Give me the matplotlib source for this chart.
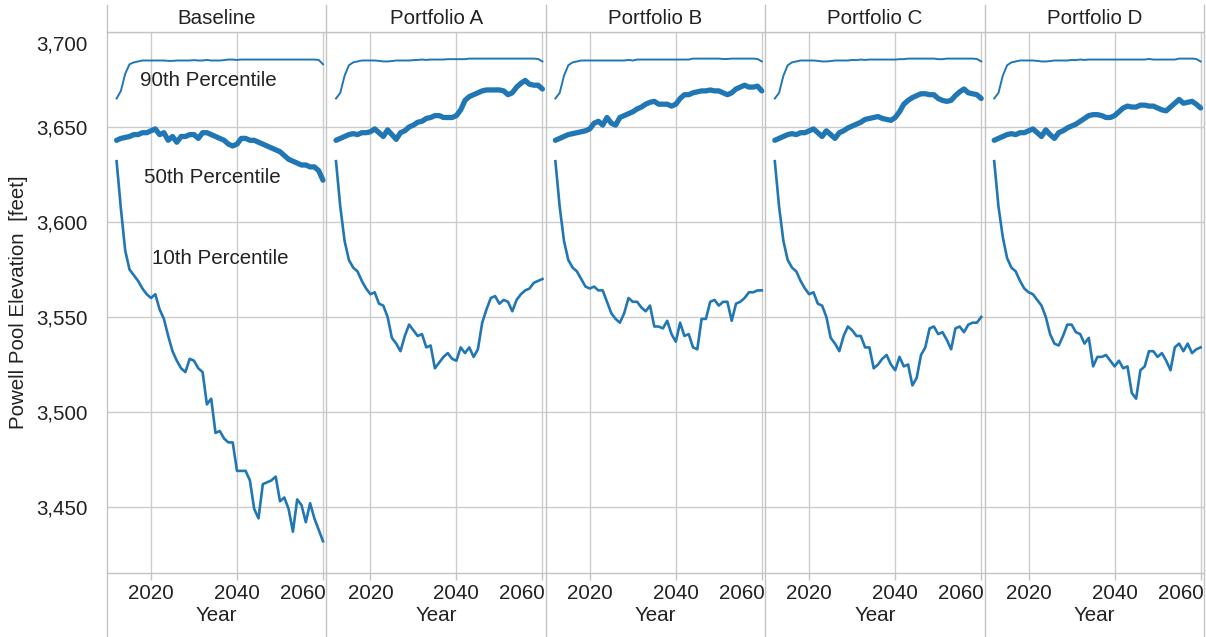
import matplotlib
matplotlib.use("Agg")
import matplotlib.pyplot as plt
from matplotlib.lines import Line2D
from matplotlib.ticker import FuncFormatter
import matplotlib.transforms as mtransforms

plt.rcParams['font.family'] = ['Liberation Sans', 'DejaVu Sans']

years = list(range(2012, 2061))
panels = ["Baseline", "Portfolio A", "Portfolio B", "Portfolio C", "Portfolio D"]

p90_baseline = [3665, 3669, 3678, 3683, 3684, 3684.5, 3685, 3685, 3685, 3685,
                3685, 3685, 3684.8, 3684.8, 3685, 3685, 3685, 3685, 3685.2, 3685,
                3685, 3685.3, 3685, 3685, 3685, 3685.2, 3685.5, 3685.5, 3685.3, 3685.5,
                3685.5, 3685.5, 3685.5, 3685.5, 3685.5, 3685.5, 3685.5, 3685.5, 3685.5, 3685.5,
                3685.5, 3685.5, 3685.5, 3685.5, 3685.5, 3685.5, 3685.5, 3685.3, 3683]
p90_a = [3665, 3668, 3677, 3682.5, 3684, 3684.5, 3685, 3685, 3685, 3685,
         3684.8, 3684.5, 3684.5, 3684.7, 3685, 3685, 3685, 3685, 3685.2, 3685.3,
         3685.5, 3685.3, 3685.5, 3685.5, 3685.5, 3685.5, 3685.7, 3685.7, 3685.7, 3685.7,
         3685.7, 3686, 3686, 3686, 3686, 3686, 3686, 3686, 3686, 3686,
         3686, 3686, 3686, 3686, 3686, 3686, 3686, 3685.8, 3684.5]
p90_b = [3665, 3668, 3677, 3682.5, 3684, 3684.5, 3685, 3685, 3685, 3685,
         3685, 3685, 3685, 3685, 3685, 3685, 3685, 3685.3, 3685, 3685.5,
         3685.5, 3685.5, 3685.5, 3685.5, 3685.5, 3685.5, 3685.5, 3685.5, 3685.5, 3685.5,
         3685.5, 3685.5, 3686, 3686, 3686, 3686, 3686, 3686, 3686, 3685.8,
         3685.8, 3686, 3686, 3686, 3686, 3686, 3686, 3685.8, 3684.5]
p90_c = [3665, 3668, 3677, 3682.5, 3684, 3684.5, 3685, 3685, 3685, 3685,
         3684.8, 3684.5, 3684.5, 3684.7, 3685, 3685, 3685, 3685, 3685.3, 3685.2,
         3685.5, 3685.3, 3685.5, 3685.5, 3685.5, 3685.5, 3685.5, 3685.5, 3685.5, 3685.7,
         3685.7, 3686, 3686, 3686, 3686, 3686, 3686, 3686, 3685.7, 3685.7,
         3686, 3686, 3686, 3686, 3686, 3686, 3686, 3685.8, 3684.5]
p90_d = [3665, 3668, 3677, 3682.5, 3684, 3684.5, 3685, 3685, 3685, 3685,
         3684.8, 3684.5, 3684.5, 3684.7, 3685, 3685, 3685, 3685, 3685.3, 3685.2,
         3685.5, 3685.3, 3685.5, 3685.5, 3685.5, 3685.5, 3685.5, 3685.5, 3685.5, 3685.5,
         3685.5, 3685.5, 3685.5, 3685.5, 3685.5, 3685.5, 3685.8, 3685.5, 3685.5, 3685.5,
         3685.5, 3685.5, 3685.5, 3686, 3686, 3686, 3686, 3685.8, 3684.5]

p50_baseline = [3643, 3644, 3644.5, 3645, 3646, 3646, 3647, 3647, 3648, 3649,
                3646, 3647, 3643, 3645, 3642, 3645, 3645, 3646, 3646, 3644,
                3647, 3647, 3646, 3645, 3644, 3643, 3641, 3640, 3641, 3644,
                3644, 3643, 3643, 3642, 3641, 3640, 3639, 3638, 3637, 3635,
                3633, 3632, 3631, 3630, 3630, 3629, 3629, 3627, 3622]
p50_a = [3643, 3644, 3645, 3646, 3646.5, 3646, 3647, 3647, 3647.5, 3649,
         3647, 3645, 3648.5, 3646, 3643.5, 3647, 3648, 3650, 3651, 3652.5,
         3653, 3654.5, 3655, 3656, 3656, 3655, 3655, 3655, 3656, 3659,
         3664, 3666, 3667, 3668, 3669, 3669.5, 3669.5, 3669.5, 3669.5, 3669,
         3667, 3668, 3671, 3673, 3674.5, 3672.5, 3672, 3672, 3670]
p50_b = [3643, 3644, 3645, 3646, 3646.5, 3647, 3647.5, 3648, 3649, 3652,
         3653, 3651, 3655, 3652, 3651, 3655, 3656, 3657, 3658, 3659.5,
         3660.5, 3662, 3663, 3663.5, 3662, 3662, 3662, 3661, 3662, 3665,
         3667, 3667, 3668, 3668.5, 3669, 3669, 3669.5, 3669, 3669, 3668,
         3667, 3668, 3670, 3671, 3672, 3671, 3671, 3671.5, 3669]
p50_c = [3643, 3644, 3645, 3646, 3646.5, 3646, 3647, 3647, 3648, 3649,
         3647, 3645, 3648, 3646, 3644, 3647, 3648, 3649.5, 3650.5, 3651.5,
         3652.5, 3654, 3654.5, 3655, 3655.5, 3654.5, 3654, 3653.5, 3655, 3658,
         3662, 3664, 3665.5, 3666.5, 3667.5, 3667.5, 3667, 3667, 3665, 3664,
         3663.5, 3664, 3666.5, 3668.5, 3670, 3668, 3667.5, 3667, 3665]
p50_d = [3643, 3644, 3645, 3646, 3646.5, 3646, 3647, 3647, 3648, 3649,
         3647, 3645, 3648.5, 3646, 3644, 3647, 3648, 3649.5, 3650.5, 3651.5,
         3653, 3654.5, 3656, 3656.5, 3656.5, 3656, 3655, 3655, 3656, 3658,
         3660, 3661, 3660.5, 3660.5, 3661.5, 3661.5, 3661, 3661, 3660, 3659,
         3658.5, 3660.5, 3662.5, 3664.5, 3662.5, 3663, 3663.5, 3662, 3660]

p10_baseline = [3632, 3607, 3585, 3575, 3572, 3569, 3565, 3562, 3560, 3562,
                3554, 3549, 3540, 3532, 3527, 3523, 3521, 3528, 3527, 3523,
                3521, 3504, 3507, 3489, 3490, 3486, 3484, 3484, 3469, 3469,
                3469, 3464, 3449, 3444, 3462, 3463, 3464, 3466, 3453, 3455,
                3449, 3437, 3454, 3451, 3442, 3452, 3444, 3438, 3432]
p10_a = [3632, 3608, 3590, 3580, 3576, 3574, 3569, 3565, 3562, 3563,
         3557, 3556, 3550, 3539, 3536, 3532, 3540, 3546, 3543, 3540,
         3541, 3534, 3535, 3523, 3526, 3529, 3531, 3528, 3527, 3534,
         3531, 3534, 3529, 3533, 3547, 3554, 3560, 3561, 3557, 3559,
         3558, 3553, 3559, 3562, 3564, 3565, 3568, 3569, 3570]
p10_b = [3632, 3608, 3590, 3580, 3576, 3574, 3570, 3566, 3565, 3566,
         3564, 3564, 3558, 3552, 3549, 3547, 3552, 3560, 3558, 3558,
         3555, 3553, 3556, 3545, 3545, 3544, 3548, 3541, 3537, 3547,
         3540, 3541, 3534, 3533, 3549, 3549, 3558, 3559, 3556, 3558,
         3558, 3548, 3557, 3558, 3560, 3563, 3563, 3564, 3564]
p10_c = [3632, 3608, 3590, 3580, 3576, 3574, 3569, 3565, 3562, 3563,
         3557, 3556, 3550, 3539, 3536, 3532, 3540, 3545, 3543, 3540,
         3540, 3534, 3534, 3523, 3525, 3528, 3530, 3525, 3522, 3529,
         3524, 3525, 3514, 3518, 3530, 3534, 3544, 3545, 3541, 3542,
         3538, 3533, 3544, 3545, 3542, 3546, 3547, 3547, 3550]
p10_d = [3632, 3608, 3592, 3581, 3576, 3574, 3569, 3565, 3563, 3562,
         3559, 3556, 3550, 3541, 3536, 3535, 3540, 3546, 3546, 3542,
         3541, 3536, 3539, 3524, 3529, 3529, 3530, 3527, 3524, 3527,
         3523, 3524, 3510, 3507, 3522, 3524, 3532, 3532, 3529, 3531,
         3527, 3522, 3534, 3536, 3532, 3536, 3531, 3533, 3534]

p90 = [p90_baseline, p90_a, p90_b, p90_c, p90_d]
p50 = [p50_baseline, p50_a, p50_b, p50_c, p50_d]
p10 = [p10_baseline, p10_a, p10_b, p10_c, p10_d]

y_ticks = [3450, 3500, 3550, 3600, 3650, 3700]
x_ticks = [2020, 2040, 2060]

W, H = 1206, 637
fig = plt.figure(figsize=(W / 100, H / 100), dpi=100)

line_color = '#2077b4'
grid_color = '#cccccc'
sep_color = '#c4c4c4'
text_color = '#222222'
fs = 14.8

left0 = 107
pw = 219.4
top_px = 32
bot_px = 573
ylim = (3700 - (bot_px - top_px) / 1.9, 3700)
xlim = (2020 - 44 / 4.3, 2020 - 44 / 4.3 + pw / 4.3)

axes = []
for i, name in enumerate(panels):
    l = (left0 + i * pw) / W
    b = (H - bot_px) / H
    ax = fig.add_axes([l, b, pw / W, (bot_px - top_px) / H])
    axes.append(ax)
    ax.set_xlim(*xlim)
    ax.set_ylim(*ylim)
    ax.set_xticks(x_ticks)
    ax.set_yticks(y_ticks)
    ax.grid(True, color=grid_color, linewidth=1.0, zorder=0)
    ax.set_axisbelow(True)
    for s in ['left', 'right']:
        ax.spines[s].set_visible(False)
    for s in ['top', 'bottom']:
        ax.spines[s].set_color(sep_color)
        ax.spines[s].set_linewidth(1.0)
    ax.tick_params(axis='x', length=5, width=1.0, color=sep_color, labelsize=fs,
                   labelcolor=text_color, pad=3)
    ax.tick_params(axis='y', length=0, labelsize=fs, labelcolor=text_color, pad=14)
    ax.yaxis.set_major_formatter(FuncFormatter(lambda v, p: f"{int(v):,}"))
    ax.set_xlabel("Year", fontsize=fs, color=text_color, labelpad=2)
    ax.set_title(name, fontsize=fs, color=text_color, pad=6)
    if i > 0:
        ax.tick_params(axis='y', labelleft=False)

    ax.plot(years, p90[i], color=line_color, linewidth=1.4, zorder=3, solid_joinstyle='round')
    ax.plot(years, p10[i], color=line_color, linewidth=1.9, zorder=3, solid_joinstyle='round')
    ax.plot(years, p50[i], color=line_color, linewidth=3.8, zorder=3, solid_joinstyle='round',
            solid_capstyle='round')

fig.canvas.draw()
# last x tick label of each pane sits left of its tick, as in the reference
for ax in axes:
    xl = ax.get_xticklabels()
    xl[-1].set_horizontalalignment('right')
    xl[-1].set_transform(xl[-1].get_transform() +
                         mtransforms.ScaledTranslation(2 / 72, 0, fig.dpi_scale_trans))

# shift top y label down like the reference
ax0 = axes[0]
labels = ax0.get_yticklabels()
offset = mtransforms.ScaledTranslation(0, -8 / 72, fig.dpi_scale_trans)
labels[-1].set_transform(labels[-1].get_transform() + offset)

ax0.set_ylabel("Powell Pool Elevation  [feet]", fontsize=fs, color=text_color, labelpad=6)

ax0.text(2033.3, 3674.7, "90th Percentile", fontsize=fs, color=text_color, ha='center', va='center')
ax0.text(2034.2, 3623.2, "50th Percentile", fontsize=fs, color=text_color, ha='center', va='center')
ax0.text(2036.0, 3581.0, "10th Percentile", fontsize=fs, color=text_color, ha='center', va='center')

# panel separators
for i in range(len(panels) + 1):
    x = (left0 + i * pw) / W
    fig.add_artist(Line2D([x, x], [0, 1 - 5 / H], transform=fig.transFigure,
                          color=sep_color, linewidth=1.0))

fig.savefig("out.png", dpi=100)
